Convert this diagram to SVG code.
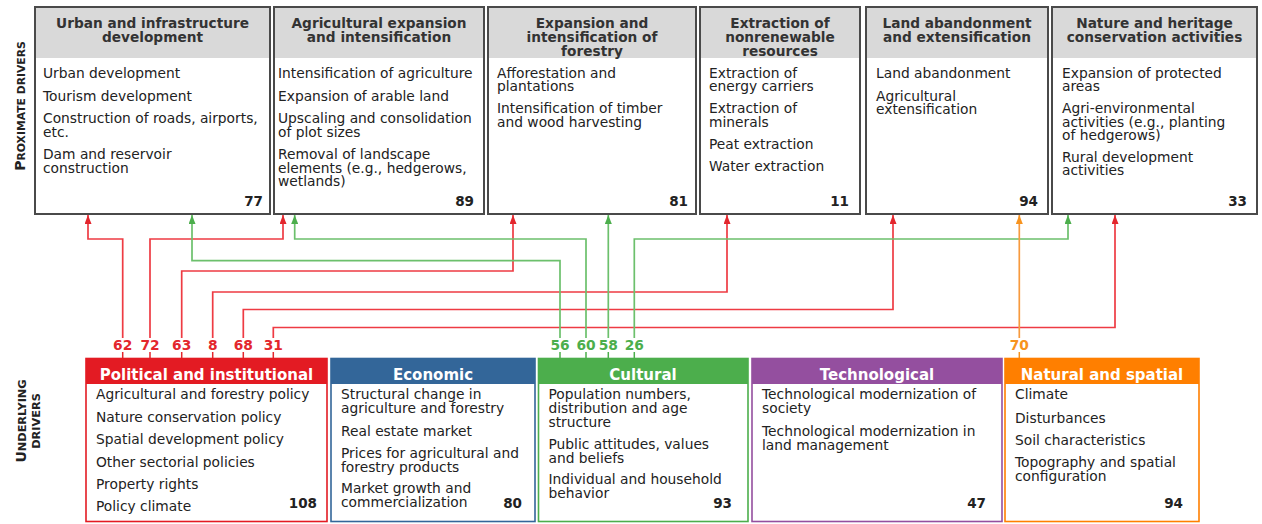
<svg xmlns="http://www.w3.org/2000/svg" width="1262" height="524" viewBox="0 0 1262 524">
<defs>
<style>
.pb{fill:#fff;stroke:#4a4a4a;stroke-width:2}
.ph{fill:#d9d9d9}
.pt{font-family:"DejaVu Sans",Verdana,sans-serif;font-weight:bold;font-size:13.7px;fill:#333;text-anchor:middle}
.px{font-family:"DejaVu Sans",Verdana,sans-serif;font-size:13.8px;fill:#222}
.pn{font-family:"DejaVu Sans",Verdana,sans-serif;font-weight:bold;font-size:13.5px;fill:#222;text-anchor:end}
.ub{fill:#fff;stroke-width:1.6}
.ut{font-family:"DejaVu Sans",Tahoma,sans-serif;font-weight:bold;font-size:15px;fill:#fff;text-anchor:middle}
.ux{font-family:"DejaVu Sans",Tahoma,sans-serif;font-size:13.8px;fill:#222}
.un{font-family:"DejaVu Sans",Tahoma,sans-serif;font-weight:bold;font-size:13.5px;fill:#222;text-anchor:end}
.side{font-family:"DejaVu Sans",Verdana,sans-serif;font-weight:bold;fill:#222;text-anchor:middle}
.lbl{font-family:"DejaVu Sans",Tahoma,sans-serif;font-weight:bold;font-size:13.8px;text-anchor:middle}
.cr{fill:none;stroke:#ee3b43;stroke-width:1.7;marker-end:url(#ar)}
.cg{fill:none;stroke:#6cc06c;stroke-width:1.7;marker-end:url(#ag)}
.co{fill:none;stroke:#f79a3e;stroke-width:1.7;marker-end:url(#ao)}
.tr{stroke:#e3262d;stroke-width:1.5}
.tg{stroke:#4cae4c;stroke-width:1.5}
.to{stroke:#f7931e;stroke-width:1.5}
</style>
<marker id="ar" markerUnits="userSpaceOnUse" markerWidth="9" markerHeight="7" refX="9" refY="3.5" orient="auto"><path d="M0,0 L9,3.5 L0,7 z" fill="#e3262d"/></marker>
<marker id="ag" markerUnits="userSpaceOnUse" markerWidth="9" markerHeight="7" refX="9" refY="3.5" orient="auto"><path d="M0,0 L9,3.5 L0,7 z" fill="#4cae4c"/></marker>
<marker id="ao" markerUnits="userSpaceOnUse" markerWidth="9" markerHeight="7" refX="9" refY="3.5" orient="auto"><path d="M0,0 L9,3.5 L0,7 z" fill="#f7931e"/></marker>
</defs>
<rect width="1262" height="524" fill="#fff"/>

<!-- side labels -->
<text class="side" transform="translate(24.5,106) rotate(-90)"><tspan font-size="14">P</tspan><tspan font-size="10.8">ROXIMATE DRIVERS</tspan></text>
<text class="side" transform="translate(26,421) rotate(-90)"><tspan font-size="14">U</tspan><tspan font-size="11.3">NDERLYING</tspan></text>
<text class="side" transform="translate(39.5,421) rotate(-90)"><tspan font-size="11.3">DRIVERS</tspan></text>

<!-- proximate drivers -->
<g id="p-urban">
<rect class="pb" x="35" y="7" width="235" height="207"/>
<rect class="ph" x="36" y="8" width="233" height="50"/>
<text class="pt"><tspan x="152.5" y="28">Urban and infrastructure</tspan><tspan x="152.5" y="42">development</tspan></text>
<text class="px"><tspan x="43" y="77.5">Urban development</tspan><tspan x="43" y="100.5">Tourism development</tspan><tspan x="43" y="123">Construction of roads, airports,</tspan><tspan x="43" y="136.5">etc.</tspan><tspan x="43" y="159">Dam and reservoir</tspan><tspan x="43" y="172.5">construction</tspan></text>
<text class="pn" x="263" y="206">77</text>
</g>
<g id="p-agri">
<rect class="pb" x="274" y="7" width="210" height="207"/>
<rect class="ph" x="275" y="8" width="208" height="50"/>
<text class="pt"><tspan x="379" y="28">Agricultural expansion</tspan><tspan x="379" y="42">and intensification</tspan></text>
<text class="px"><tspan x="278" y="77.5">Intensification of agriculture</tspan><tspan x="278" y="100.5">Expansion of arable land</tspan><tspan x="278" y="123">Upscaling and consolidation</tspan><tspan x="278" y="136.5">of plot sizes</tspan><tspan x="278" y="159">Removal of landscape</tspan><tspan x="278" y="172.5">elements (e.g., hedgerows,</tspan><tspan x="278" y="186">wetlands)</tspan></text>
<text class="pn" x="474" y="206">89</text>
</g>
<g id="p-forestry">
<rect class="pb" x="488" y="7" width="208" height="207"/>
<rect class="ph" x="489" y="8" width="206" height="50"/>
<text class="pt"><tspan x="592" y="27.5">Expansion and</tspan><tspan x="592" y="41.5">intensification of</tspan><tspan x="592" y="55.5">forestry</tspan></text>
<text class="px"><tspan x="497" y="77.5">Afforestation and</tspan><tspan x="497" y="91">plantations</tspan><tspan x="497" y="113">Intensification of timber</tspan><tspan x="497" y="126.5">and wood harvesting</tspan></text>
<text class="pn" x="688" y="206">81</text>
</g>
<g id="p-extraction">
<rect class="pb" x="700" y="7" width="160" height="207"/>
<rect class="ph" x="701" y="8" width="158" height="50"/>
<text class="pt"><tspan x="780" y="27.5">Extraction of</tspan><tspan x="780" y="41.5">nonrenewable</tspan><tspan x="780" y="55.5">resources</tspan></text>
<text class="px"><tspan x="709" y="77.5">Extraction of</tspan><tspan x="709" y="91">energy carriers</tspan><tspan x="709" y="113">Extraction of</tspan><tspan x="709" y="126.5">minerals</tspan><tspan x="709" y="149">Peat extraction</tspan><tspan x="709" y="171">Water extraction</tspan></text>
<text class="pn" x="849" y="206">11</text>
</g>
<g id="p-abandon">
<rect class="pb" x="866" y="7" width="182" height="207"/>
<rect class="ph" x="867" y="8" width="180" height="50"/>
<text class="pt"><tspan x="957" y="28">Land abandonment</tspan><tspan x="957" y="42">and extensification</tspan></text>
<text class="px"><tspan x="876" y="77.5">Land abandonment</tspan><tspan x="876" y="100.5">Agricultural</tspan><tspan x="876" y="114">extensification</tspan></text>
<text class="pn" x="1038" y="206">94</text>
</g>
<g id="p-nature">
<rect class="pb" x="1052" y="7" width="205" height="207"/>
<rect class="ph" x="1053" y="8" width="203" height="50"/>
<text class="pt"><tspan x="1154.5" y="28">Nature and heritage</tspan><tspan x="1154.5" y="42">conservation activities</tspan></text>
<text class="px"><tspan x="1062" y="77.5">Expansion of protected</tspan><tspan x="1062" y="91">areas</tspan><tspan x="1062" y="113">Agri-environmental</tspan><tspan x="1062" y="126.5">activities (e.g., planting</tspan><tspan x="1062" y="140">of hedgerows)</tspan><tspan x="1062" y="161.5">Rural development</tspan><tspan x="1062" y="175">activities</tspan></text>
<text class="pn" x="1247" y="206">33</text>
</g>

<!-- connectors -->
<g id="connectors">
<path class="cr" d="M122.7,338 V239 H88 V215"/>
<path class="cr" d="M150,338 V239 H283 V215"/>
<path class="cr" d="M181.7,338 V271 H513 V215"/>
<path class="cr" d="M212.7,338 V292 H727 V215"/>
<path class="cr" d="M243.3,338 V309.5 H893 V215"/>
<path class="cr" d="M273.3,338 V327.5 H1115 V215"/>
<path class="cg" d="M560,338 V260.7 H192 V215"/>
<path class="cg" d="M586,338 V239 H294.7 V215"/>
<path class="cg" d="M608.3,338 V215"/>
<path class="cg" d="M634.3,338 V239 H1068 V215"/>
<path class="co" d="M1019.3,338 V215"/>
<g fill="#e3262d" class="lbl">
<text x="122.7" y="350">62</text><text x="150" y="350">72</text><text x="181.7" y="350">63</text><text x="212.7" y="350">8</text><text x="243.3" y="350">68</text><text x="273.3" y="350">31</text>
</g>
<g class="tr"><path d="M122.7,352V358M150,352V358M181.7,352V358M212.7,352V358M243.3,352V358M273.3,352V358"/></g>
<g fill="#4cae4c" class="lbl">
<text x="560" y="350">56</text><text x="586" y="350">60</text><text x="608.3" y="350">58</text><text x="634.3" y="350">26</text>
</g>
<g class="tg"><path d="M560,352V358M586,352V358M608.3,352V358M634.3,352V358"/></g>
<text class="lbl" fill="#f7931e" x="1019.3" y="350">70</text>
<g class="to"><path d="M1019.3,352V358"/></g>
</g>

<!-- underlying drivers -->
<g id="u-political">
<rect class="ub" x="86" y="358.5" width="241" height="163" stroke="#e31b23"/>
<rect x="86" y="358" width="241" height="26" fill="#e31b23"/>
<text class="ut" x="206.5" y="380">Political and institutional</text>
<text class="ux"><tspan x="96" y="399">Agricultural and forestry policy</tspan><tspan x="96" y="421.5">Nature conservation policy</tspan><tspan x="96" y="444">Spatial development policy</tspan><tspan x="96" y="466.5">Other sectorial policies</tspan><tspan x="96" y="489">Property rights</tspan><tspan x="96" y="511">Policy climate</tspan></text>
<text class="un" x="317" y="508">108</text>
</g>
<g id="u-economic">
<rect class="ub" x="331" y="358.5" width="204" height="163" stroke="#336699"/>
<rect x="331" y="358" width="204" height="26" fill="#336699"/>
<text class="ut" x="433" y="380">Economic</text>
<text class="ux"><tspan x="341" y="399">Structural change in</tspan><tspan x="341" y="413">agriculture and forestry</tspan><tspan x="341" y="436">Real estate market</tspan><tspan x="341" y="458">Prices for agricultural and</tspan><tspan x="341" y="472">forestry products</tspan><tspan x="341" y="493">Market growth and</tspan><tspan x="341" y="507">commercialization</tspan></text>
<text class="un" x="522" y="508">80</text>
</g>
<g id="u-cultural">
<rect class="ub" x="538.5" y="358.5" width="209.5" height="163" stroke="#4cae4c"/>
<rect x="538.5" y="358" width="209.5" height="26" fill="#4cae4c"/>
<text class="ut" x="643" y="380">Cultural</text>
<text class="ux"><tspan x="548.5" y="399">Population numbers,</tspan><tspan x="548.5" y="413">distribution and age</tspan><tspan x="548.5" y="427">structure</tspan><tspan x="548.5" y="449">Public attitudes, values</tspan><tspan x="548.5" y="463">and beliefs</tspan><tspan x="548.5" y="484">Individual and household</tspan><tspan x="548.5" y="498">behavior</tspan></text>
<text class="un" x="732" y="508">93</text>
</g>
<g id="u-technological">
<rect class="ub" x="752" y="358.5" width="250" height="163" stroke="#944f9f"/>
<rect x="752" y="358" width="250" height="26" fill="#944f9f"/>
<text class="ut" x="877" y="380">Technological</text>
<text class="ux"><tspan x="762" y="399">Technological modernization of</tspan><tspan x="762" y="413">society</tspan><tspan x="762" y="436">Technological modernization in</tspan><tspan x="762" y="450">land management</tspan></text>
<text class="un" x="986" y="508">47</text>
</g>
<g id="u-natural">
<rect class="ub" x="1005" y="358.5" width="194" height="163" stroke="#ff7f00"/>
<rect x="1005" y="358" width="194" height="26" fill="#ff7f00"/>
<text class="ut" x="1102" y="380">Natural and spatial</text>
<text class="ux"><tspan x="1015" y="399">Climate</tspan><tspan x="1015" y="423">Disturbances</tspan><tspan x="1015" y="445">Soil characteristics</tspan><tspan x="1015" y="467">Topography and spatial</tspan><tspan x="1015" y="481">configuration</tspan></text>
<text class="un" x="1183" y="508">94</text>
</g>
</svg>
